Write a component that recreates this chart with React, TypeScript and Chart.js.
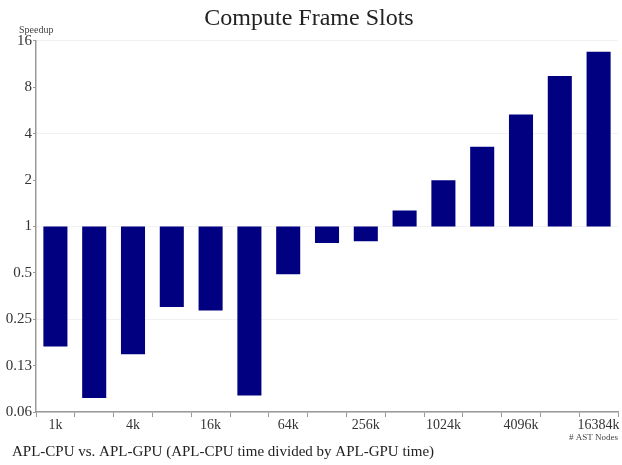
import React, { useEffect, useRef } from "react";
import { Chart, registerables } from "chart.js";

Chart.register(...registerables);

const CATEGORIES = ["1k", "2k", "4k", "8k", "16k", "32k", "64k", "128k", "256k", "512k", "1024k", "2048k", "4096k", "8192k", "16384k"];
const SPEEDUP = [0.166, 0.077, 0.148, 0.30, 0.285, 0.08, 0.49, 0.78, 0.80, 1.27, 1.99, 3.29, 5.33, 9.44, 13.6];
const Y_TICK_VALUES = [0.0625, 0.125, 0.25, 0.5, 1, 2, 4, 8, 16];
const Y_TICK_LABELS = ["0.06", "0.13", "0.25", "0.5", "1", "2", "4", "8", "16"];
const BASELINE = 1;

const TITLE = "Compute Frame Slots";
const SUBTITLE = "APL-CPU vs. APL-GPU (APL-CPU time divided by APL-GPU time)";
const X_TITLE = "# AST Nodes";
const Y_TITLE = "Speedup";

const FONT = "'Liberation Serif', 'DejaVu Serif', serif";

export default function App() {
  const ref = useRef<HTMLCanvasElement | null>(null);
  useEffect(() => {
    if (!ref.current) return;
    const textPlugin = {
      id: "extraText",
      afterDraw(chart: any) {
        const ctx = chart.ctx;
        ctx.save();
        ctx.font = `10px ${FONT}`;
        ctx.fillStyle = "#444";
        ctx.textAlign = "left";
        ctx.textBaseline = "middle";
        ctx.fillText(Y_TITLE, 19, 30);
        ctx.font = `15px ${FONT}`;
        ctx.fillStyle = "#222";
        ctx.fillText(SUBTITLE, 12, 452);
        ctx.restore();
      },
    };
    const chart = new Chart(ref.current, {
      type: "bar",
      data: {
        labels: CATEGORIES,
        datasets: [
          {
            data: SPEEDUP.map((v) => [BASELINE, v]) as any,
            backgroundColor: "#000080",
            borderWidth: 0,
            barPercentage: 0.62,
            categoryPercentage: 1,
          },
        ],
      },
      plugins: [textPlugin],
      options: {
        animation: false,
        responsive: true,
        maintainAspectRatio: false,
        layout: { padding: { left: 0, right: 4, top: 0, bottom: 22 } },
        plugins: {
          legend: { display: false },
          tooltip: { enabled: false },
          title: {
            display: true,
            text: TITLE,
            color: "#222",
            font: { family: FONT, size: 24, weight: "normal" },
            padding: { top: 4, bottom: 8 },
          },
        },
        scales: {
          x: {
            grid: {
              offset: true,
              drawOnChartArea: false,
              drawTicks: true,
              tickLength: 5,
              tickColor: "#999",
            },
            border: { color: "#999", width: 1.5 },
            ticks: {
              autoSkip: false,
              maxRotation: 0,
              padding: 0,
              color: "#333",
              font: { family: FONT, size: 14 },
              callback: (_v: any, i: number) => (i % 2 === 0 ? CATEGORIES[i] : ""),
            },
            title: {
              display: true,
              text: X_TITLE,
              align: "end",
              color: "#444",
              font: { family: FONT, size: 9 },
              padding: { top: 0, bottom: 0 },
            },
            afterFit: (s: any) => {
              s.height = 31;
            },
          },
          y: {
            type: "logarithmic",
            min: 0.0625,
            max: 16,
            afterBuildTicks: (s: any) => {
              s.ticks = Y_TICK_VALUES.map((v) => ({ value: v }));
            },
            grid: {
              color: (c: any) => {
                const v = c.tick ? c.tick.value : 1;
                const e = Math.abs(Math.round(Math.log2(v)));
                return e % 2 === 0 ? "rgba(0,0,0,0.05)" : "rgba(0,0,0,0)";
              },
              tickColor: "#999",
              tickLength: 3,
            },
            border: { color: "#999", width: 1.5 },
            ticks: {
              padding: 1,
              color: "#333",
              font: { family: FONT, size: 15 },
              callback: (_v: any, i: number) => Y_TICK_LABELS[i],
            },
            afterFit: (s: any) => {
              s.width = 36;
            },
          },
        },
      } as any,
    });
    return () => chart.destroy();
  }, []);
  return (
    <div style={{ position: "absolute", left: 0, top: 0, width: 622, height: 465, background: "#fff" }}>
      <canvas ref={ref} />
    </div>
  );
}
